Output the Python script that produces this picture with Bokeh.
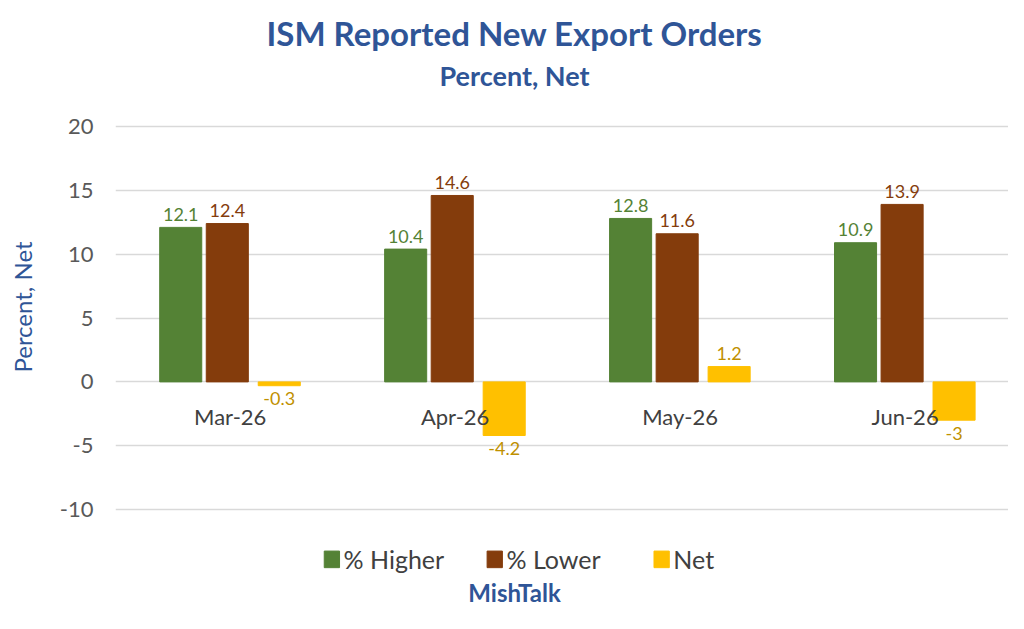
from bokeh.plotting import figure
from bokeh.models import Range1d
from bokeh.core.properties import value
from bokeh.embed import file_html
from bokeh.resources import INLINE

months = ["Mar-26", "Apr-26", "May-26", "Jun-26"]
higher = [12.1, 10.4, 12.8, 10.9]
lower = [12.4, 14.6, 11.6, 13.9]
net = [-0.3, -4.2, 1.2, -3]
series_names = ["% Higher", "% Lower", "Net"]

GREEN, BROWN, YELLOW = "#548235", "#843C0C", "#FFC000"
LBL = ["#548235", "#843C0C", "#BF9000"]
BLUE = "#2F5597"
FONT = "Lato"

p = figure(width=1008, height=613, output_backend="svg", toolbar_location=None,
           x_range=Range1d(-0.01, 3.96), y_range=Range1d(-18.14, 29.87),
           min_border_left=115, min_border_right=0, min_border_top=0,
           min_border_bottom=0)
p.outline_line_color = None
p.xaxis.visible = False
p.xgrid.visible = False
p.ygrid.grid_line_color = "#D9D9D9"
p.ygrid.grid_line_width = 1.5
p.yaxis.ticker = [-10, -5, 0, 5, 10, 15, 20]
p.yaxis.major_label_overrides = {-10: "-10", -5: "-5"}
p.yaxis.axis_line_color = None
p.yaxis.major_tick_line_color = None
p.yaxis.minor_tick_line_color = None
p.yaxis.major_label_text_font = FONT
p.yaxis.major_label_text_font_size = "22px"
p.yaxis.major_label_text_color = "#595959"
p.yaxis.major_label_standoff = 16
p.yaxis.axis_label = "Percent, Net"
p.yaxis.axis_label_text_font = FONT
p.yaxis.axis_label_text_font_style = "normal"
p.yaxis.axis_label_text_font_size = "24px"
p.yaxis.axis_label_text_color = BLUE
p.yaxis.axis_label_standoff = 20

offsets = [-0.22, -0.013, 0.218]
colors = [GREEN, BROWN, YELLOW]
for vals, off, col, lc in zip([higher, lower, net], offsets, colors, LBL):
    xs = [i + 0.5 + off for i in range(4)]
    p.vbar(x=xs, top=vals, bottom=0, width=0.187, color=col)
    ys = [v + 0.5 if v >= 0 else v - 0.5 for v in vals]
    base = ["bottom" if v >= 0 else "top" for v in vals]
    p.text(x=xs, y=ys, text=[f"{v:g}" for v in vals], text_align="center",
           text_baseline=base, text_color=lc, text_font=value(FONT),
           text_font_size="18px")

p.text(x=[i + 0.5 for i in range(4)], y=[-2.74] * 4, text=months,
       text_align="center", text_baseline="middle", text_color="#404040",
       text_font=value(FONT), text_font_size="22px")

for txt, y, size in [("ISM Reported New Export Orders", 27.3, "33px"),
                     ("Percent, Net", 24.0, "27px"),
                     ("MishTalk", -16.5, "24px")]:
    p.text(x=[1.764], y=[y], text=[txt], text_align="center",
           text_baseline="middle", text_color=BLUE, text_font=value(FONT),
           text_font_style="bold", text_font_size=size)

# legend
lx = [0.952, 1.676, 2.418]
for x0, col, name in zip(lx, colors, series_names):
    p.rect(x=[x0], y=[-13.9], width=0.068, height=1.3, color=col)
    p.text(x=[x0 + 0.052], y=[-13.9], text=[name], text_baseline="middle",
           text_color="#404040", text_font=value(FONT), text_font_size="25px")

open("out.html", "w").write(file_html(p, INLINE))
